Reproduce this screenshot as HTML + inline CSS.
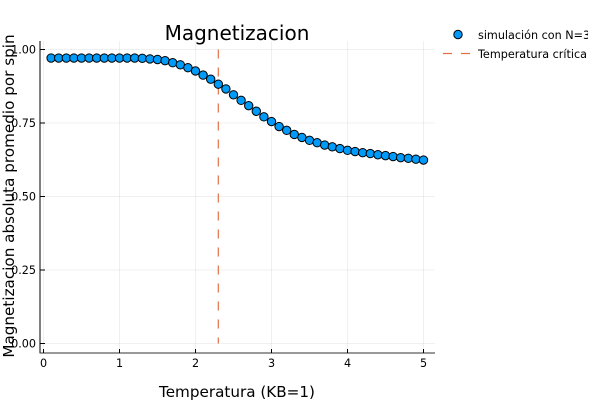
<!DOCTYPE html>
<html>
<head>
<meta charset="utf-8">
<style>
html,body{margin:0;padding:0;background:#fff;width:600px;height:400px;overflow:hidden}
svg{display:block}
text{font-family:"DejaVu Sans","Liberation Sans",sans-serif;fill:#000}
</style>
</head>
<body>
<svg id="chart" width="600" height="400" viewBox="0 0 600 400" xmlns="http://www.w3.org/2000/svg">
  <defs>
    <clipPath id="legend-clip"><rect x="440" y="20" width="148" height="50"></rect></clipPath>
  </defs>
  <g id="grid"></g>
  <line id="critical" stroke="#e26f46" stroke-width="1.2" stroke-dasharray="9 9"></line>
  <g id="points"></g>
  <line x1="40" y1="41" x2="40" y2="353.5" stroke="#000" stroke-width="1"></line>
  <line x1="39.5" y1="353" x2="435" y2="353" stroke="#333" stroke-width="1"></line>
  <g id="ticks"></g>
  <text x="237" y="40" text-anchor="middle" font-size="20">Magnetizacion</text>
  <text x="237" y="397" text-anchor="middle" font-size="15.2">Temperatura (KB=1)</text>
  <text transform="translate(14,196) rotate(-90)" text-anchor="middle" font-size="15.2">Magnetizacion absoluta promedio por spin</text>
  <g clip-path="url(#legend-clip)">
    <circle cx="458" cy="34.5" r="4.2" fill="#009af9" stroke="#000" stroke-width="1"></circle>
    <text x="478" y="39" font-size="11.2" fill="#222">simulación con N=30</text>
    <line x1="443" y1="53.5" x2="470" y2="53.5" stroke="#e26f46" stroke-width="1.2" stroke-dasharray="9 9"></line>
    <text x="478" y="58" font-size="11.2" fill="#222">Temperatura crítica</text>
  </g>
</svg>
<script>
const temperatures = [0.1,0.2,0.3,0.4,0.5,0.6,0.7,0.8,0.9,1.0,1.1,1.2,1.3,1.4,1.5,1.6,1.7,1.8,1.9,2.0,2.1,2.2,2.3,2.4,2.5,2.6,2.7,2.8,2.9,3.0,3.1,3.2,3.3,3.4,3.5,3.6,3.7,3.8,3.9,4.0,4.1,4.2,4.3,4.4,4.5,4.6,4.7,4.8,4.9,5.0];
const magnetization = [0.971,0.971,0.971,0.971,0.971,0.971,0.971,0.971,0.971,0.971,0.971,0.971,0.970,0.968,0.966,0.962,0.955,0.948,0.938,0.927,0.913,0.899,0.882,0.866,0.846,0.827,0.809,0.790,0.771,0.755,0.738,0.725,0.711,0.701,0.691,0.683,0.675,0.669,0.663,0.657,0.653,0.649,0.646,0.642,0.639,0.636,0.632,0.630,0.627,0.624];
const criticalTemperature = [2.3];
const criticalRange = [0, 1];
const xTicks = [0,1,2,3,4,5];
const yTicks = [0,0.25,0.5,0.75,1];
const yTickLabels = ["0.00","0.25","0.50","0.75","1.00"];

const NS = "http://www.w3.org/2000/svg";
const xScale = function (v) { return 43.5 + v * 76; };
const yScale = function (v) { return 343.5 - v * 294; };
const grid = document.getElementById("grid");
const ticks = document.getElementById("ticks");
const points = document.getElementById("points");

function makeLine(x1, y1, x2, y2, stroke, width) {
  const l = document.createElementNS(NS, "line");
  l.setAttribute("x1", x1);
  l.setAttribute("y1", y1);
  l.setAttribute("x2", x2);
  l.setAttribute("y2", y2);
  l.setAttribute("stroke", stroke);
  l.setAttribute("stroke-width", width);
  return l;
}
function makeLabel(x, y, anchor, str) {
  const t = document.createElementNS(NS, "text");
  t.setAttribute("x", x);
  t.setAttribute("y", y);
  t.setAttribute("text-anchor", anchor);
  t.setAttribute("font-size", "11.2");
  t.textContent = str;
  return t;
}

xTicks.forEach(function (v) {
  const x = xScale(v);
  const g = makeLine(x, 41, x, 353, "#000", 1);
  g.setAttribute("stroke-opacity", "0.06");
  
  
  grid.appendChild(g);
  const t = makeLine(x, 353, x, 349, "#000", 1);
  
  
  ticks.appendChild(t);
  const lab = makeLabel(x, 367, "middle", String(v));
  
  
  ticks.appendChild(lab);
});

yTicks.forEach(function (v, i) {
  const y = yScale(v);
  const g = makeLine(40, y, 435, y, "#000", 1);
  g.setAttribute("stroke-opacity", "0.06");
  
  
  grid.appendChild(g);
  const t = makeLine(40, y, 45, y, "#000", 1);
  
  
  ticks.appendChild(t);
  const lab = makeLabel(36, y + 4, "end", yTickLabels[i]);
  
  
  ticks.appendChild(lab);
});

const crit = document.getElementById("critical");
crit.setAttribute("x1", xScale(criticalTemperature[0]));
crit.setAttribute("x2", xScale(criticalTemperature[0]));
crit.setAttribute("y1", yScale(criticalRange[1]));
crit.setAttribute("y2", yScale(criticalRange[0]));

temperatures.forEach(function (t, i) {
  const c = document.createElementNS(NS, "circle");
  c.setAttribute("cx", xScale(t));
  c.setAttribute("cy", yScale(magnetization[i]));
  c.setAttribute("r", "4.2");
  c.setAttribute("fill", "#009af9");
  c.setAttribute("stroke", "#000");
  c.setAttribute("stroke-width", "1");
  
  
  points.appendChild(c);
});
</script>
</body>
</html>
